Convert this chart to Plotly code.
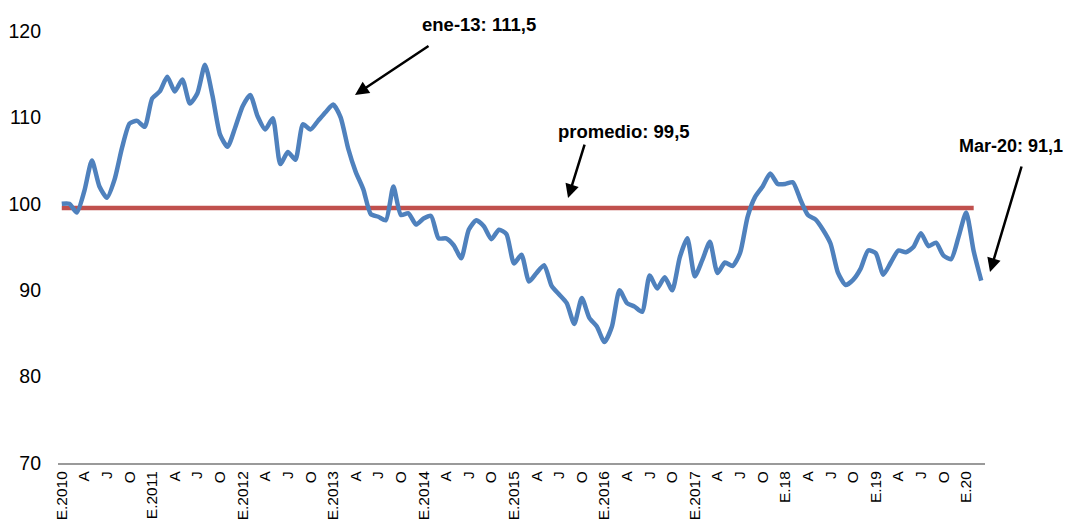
import plotly.graph_objects as go

values = [
    100.0, 100.0, 99.0, 101.5, 105.0, 102.0, 100.7, 102.8, 106.5, 109.3, 109.6, 108.9,   # 2010
    112.2, 113.0, 114.7, 113.0, 114.4, 111.6, 112.8, 116.1, 112.5, 108.0, 106.6, 108.8,  # 2011
    111.3, 112.6, 110.1, 108.6, 109.9, 104.6, 106.0, 105.1, 109.2, 108.6, 109.6, 110.6,  # 2012
    111.5, 110.0, 106.4, 103.7, 101.7, 98.8, 98.5, 98.1, 102.0, 98.7, 98.9, 97.6,       # 2013
    98.3, 98.6, 96.0, 96.0, 95.2, 93.7, 97.0, 98.1, 97.4, 95.9, 97.0, 96.5,             # 2014
    93.1, 94.1, 91.0, 92.0, 92.9, 90.5, 89.5, 88.5, 86.1, 89.1, 86.8, 85.8,             # 2015
    84.0, 85.8, 90.0, 88.5, 88.1, 87.5, 91.7, 90.2, 91.5, 90.0, 93.8, 96.0,             # 2016
    91.6, 93.5, 95.6, 92.0, 93.2, 92.8, 94.3, 98.5, 100.8, 102.0, 103.5, 102.3,         # 2017
    102.3, 102.5, 100.5, 98.7, 98.2, 97.0, 95.4, 92.0, 90.6, 91.2, 92.5, 94.6,          # 2018
    94.3, 91.8, 93.2, 94.6, 94.4, 95.0, 96.6, 95.1, 95.5, 94.0, 93.6, 96.2,             # 2019
    99.0, 94.5, 91.1,                                                                   # 2020
]
average_value = 99.5
average_len = 122

year_labels = ["E.2010", "E.2011", "E.2012", "E.2013", "E.2014", "E.2015",
               "E.2016", "E.2017", "E.18", "E.19", "E.20"]
quarter_labels = ["A", "J", "O"]

annotation_texts = ["ene-13: 111,5", "promedio: 99,5", "Mar-20: 91,1"]

tickvals, ticktext = [], []
for k, yl in enumerate(year_labels):
    for q, lab in enumerate([yl] + quarter_labels):
        idx = k * 12 + q * 3
        if idx < len(values):
            tickvals.append(idx)
            ticktext.append(lab)

x = list(range(len(values)))

fig = go.Figure()
fig.add_trace(go.Scatter(
    x=list(range(average_len)), y=[average_value] * average_len, mode="lines",
    line=dict(color="#C0504D", width=4.5), hoverinfo="skip", showlegend=False))
fig.add_trace(go.Scatter(
    x=x, y=values, mode="lines",
    line=dict(color="#4F81BD", width=4.5, shape="spline", smoothing=0.6),
    showlegend=False))

def tfont(size):
    return dict(family="Liberation Sans, Arial, sans-serif", size=size, color="#000000")

arrow_common = dict(showarrow=True, arrowhead=2, arrowsize=1.1, arrowwidth=2.5,
                    arrowcolor="#000000", text="", xref="paper", yref="paper",
                    axref="pixel", ayref="pixel")
label_common = dict(xref="paper", yref="paper", showarrow=False,
                    xanchor="center", yanchor="middle")

annotations = [
    dict(x=0.3204, y=0.8519, ax=75, ay=-50, **arrow_common),
    dict(x=0.5502, y=0.6134, ax=17, ay=-55, **arrow_common),
    dict(x=1.0054, y=0.4421, ax=32, ay=-107, **arrow_common),
    dict(x=0.4538, y=1.0139, text="<b>%s</b>" % annotation_texts[0], font=tfont(18.5), **label_common),
    dict(x=0.6106, y=0.7685, text="<b>%s</b>" % annotation_texts[1], font=tfont(18.5), **label_common),
    dict(x=1.0285, y=0.7338, text="<b>%s</b>" % annotation_texts[2], font=tfont(18), **label_common),
]

# page body adds an 8px offset, so margins are reduced by 8px on left/top
fig.update_layout(
    width=1073, height=525,
    margin=dict(l=50, r=96, t=23, b=70, autoexpand=False),
    paper_bgcolor="white", plot_bgcolor="white",
    annotations=annotations,
    xaxis=dict(
        range=[-0.5, len(values) - 0.5],
        tickvals=tickvals, ticktext=ticktext, tickangle=-90,
        showgrid=False, zeroline=False, automargin=False,
        showline=True, linecolor="#9A9A9A", linewidth=2,
        ticks="", tickfont=tfont(15.5),
    ),
    yaxis=dict(
        range=[70, 120], tickvals=[70, 80, 90, 100, 110, 120],
        showgrid=False, zeroline=False, showline=False, ticks="", automargin=False,
        ticklabelstandoff=16,
        tickfont=tfont(19.5),
    ),
)

fig.write_html("out.html")
